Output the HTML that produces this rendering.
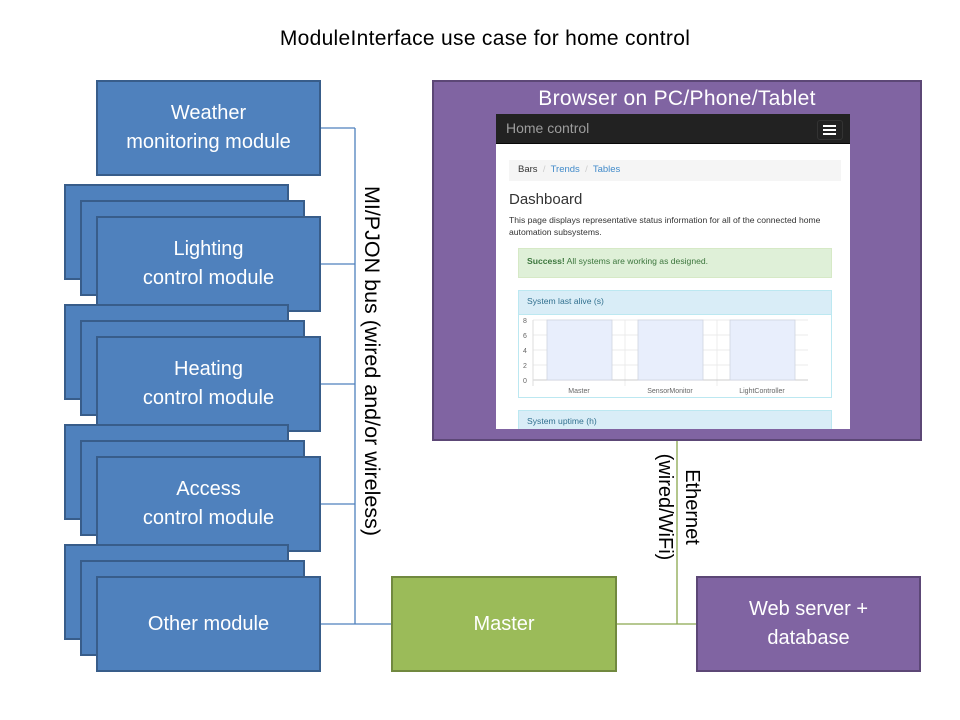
<!DOCTYPE html>
<html><head><meta charset="utf-8"><style>
*{margin:0;padding:0;box-sizing:border-box}
body{width:960px;height:720px;background:#fff;position:relative;overflow:hidden;font-family:"Liberation Sans",sans-serif}
.b{position:absolute;background:#4f81bd;border:2px solid #385d8a;color:#fff;font-size:20px;line-height:29px;text-align:center;display:flex;align-items:center;justify-content:center}
.a{position:absolute}
.rot{position:absolute;transform:rotate(90deg);transform-origin:center;white-space:nowrap;font-size:20px;color:#000;text-align:center}
.s{font-family:"Liberation Sans",sans-serif;}
</style></head><body>
<div class="a" style="left:0;top:27px;width:970px;text-align:center;font-size:21px;letter-spacing:0.3px">ModuleInterface use case for home control</div>

<svg class="a" style="left:0;top:0" width="960" height="720">
<g stroke="#4f81bd" stroke-width="1.3" fill="none">
<line x1="355" y1="128" x2="355" y2="624"/>
<line x1="321" y1="128" x2="355" y2="128"/>
<line x1="321" y1="264" x2="355" y2="264"/>
<line x1="321" y1="384" x2="355" y2="384"/>
<line x1="321" y1="504" x2="355" y2="504"/>
<line x1="321" y1="624" x2="391" y2="624"/>
</g>
<g stroke="#8aa84f" stroke-width="1.3">
<line x1="677" y1="440" x2="677" y2="624"/>
<line x1="617" y1="624" x2="696" y2="624"/>
</g>
</svg>

<div class="b" style="left:96px;top:80px;width:225px;height:96px">Weather<br>monitoring module</div>

<div class="b" style="left:64px;top:184px;width:225px;height:96px"></div>
<div class="b" style="left:80px;top:200px;width:225px;height:96px"></div>
<div class="b" style="left:96px;top:216px;width:225px;height:96px">Lighting<br>control module</div>

<div class="b" style="left:64px;top:304px;width:225px;height:96px"></div>
<div class="b" style="left:80px;top:320px;width:225px;height:96px"></div>
<div class="b" style="left:96px;top:336px;width:225px;height:96px">Heating<br>control module</div>

<div class="b" style="left:64px;top:424px;width:225px;height:96px"></div>
<div class="b" style="left:80px;top:440px;width:225px;height:96px"></div>
<div class="b" style="left:96px;top:456px;width:225px;height:96px">Access<br>control module</div>

<div class="b" style="left:64px;top:544px;width:225px;height:96px"></div>
<div class="b" style="left:80px;top:560px;width:225px;height:96px"></div>
<div class="b" style="left:96px;top:576px;width:225px;height:96px">Other module</div>

<div class="b" style="left:391px;top:576px;width:226px;height:96px;background:#9bbb59;border-color:#71893f">Master</div>
<div class="b" style="left:696px;top:576px;width:225px;height:96px;background:#8064a2;border-color:#5c4776">Web server +<br>database</div>

<div class="a" style="left:432px;top:80px;width:490px;height:361px;background:#8064a2;border:2px solid #5c4776"></div>
<div class="a" style="left:432px;top:87px;width:490px;text-align:center;color:#fff;font-size:21px;letter-spacing:0.3px">Browser on PC/Phone/Tablet</div>

<div class="a s" style="left:496px;top:114px;width:354px;height:315px;background:#fff;overflow:hidden">
 <div class="a" style="left:0;top:0;width:354px;height:30px;background:#222;border-bottom:1px solid #080808"></div>
 <div class="a" style="left:10px;top:6px;color:#9d9d9d;font-size:14px">Home control</div>
 <div class="a" style="left:321px;top:6px;width:26px;height:20px;border:1px solid #333;border-radius:3px"></div>
 <div class="a" style="left:327px;top:11px;width:13px;height:2px;background:#fff;box-shadow:0 4px 0 #fff,0 8px 0 #fff"></div>
 <div class="a" style="left:13px;top:46px;width:332px;height:21px;background:#f5f5f5"></div>
 <div class="a" style="left:22px;top:50px;font-size:9.5px;color:#333">Bars <span style="color:#ccc">&nbsp;/&nbsp;</span> <span style="color:#428bca">Trends</span> <span style="color:#ccc">&nbsp;/&nbsp;</span> <span style="color:#428bca">Tables</span></div>
 <div class="a" style="left:13px;top:77px;font-size:15px;color:#333">Dashboard</div>
 <div class="a" style="left:13px;top:100px;width:335px;font-size:8.6px;line-height:12px;color:#333">This page displays representative status information for all of the connected home automation subsystems.</div>
 <div class="a" style="left:22px;top:134px;width:314px;height:30px;background:#dff0d8;border:1px solid #d6e9c6"></div>
 <div class="a" style="left:31px;top:142px;font-size:8.6px;color:#3c763d"><b>Success!</b> All systems are working as designed.</div>
 <div class="a" style="left:22px;top:176px;width:314px;height:108px;border:1px solid #bce8f1"></div>
 <div class="a" style="left:22px;top:176px;width:314px;height:25px;background:#d9edf7;border:1px solid #bce8f1"></div>
 <div class="a" style="left:31px;top:182px;font-size:8.6px;color:#31708f">System last alive (s)</div>
 <svg class="a" style="left:22px;top:200px" width="314" height="84">
  <g stroke="#e5e5e5" stroke-width="0.7"><line x1="15" y1="6" x2="290" y2="6"/><line x1="15" y1="21" x2="290" y2="21"/><line x1="15" y1="36" x2="290" y2="36"/><line x1="15" y1="51" x2="290" y2="51"/><line x1="107" y1="6" x2="107" y2="72"/><line x1="199" y1="6" x2="199" y2="72"/></g>
  <line x1="15" y1="66" x2="290" y2="66" stroke="#ccc"/><line x1="15" y1="6" x2="15" y2="72" stroke="#ddd"/>
  <g fill="#e8eefc" stroke="#d0d4e0" stroke-width="0.8"><rect x="29" y="6" width="65" height="60"/><rect x="120" y="6" width="65" height="60"/><rect x="212" y="6" width="65" height="60"/></g>
  <g font-size="7" fill="#666" font-family="Liberation Sans"><text x="5" y="9">8</text><text x="5" y="24">6</text><text x="5" y="39">4</text><text x="5" y="54">2</text><text x="5" y="69">0</text>
  <text x="61" y="79" text-anchor="middle">Master</text><text x="152" y="79" text-anchor="middle">SensorMonitor</text><text x="244" y="79" text-anchor="middle">LightController</text></g>
 </svg>
 <div class="a" style="left:22px;top:296px;width:314px;height:30px;background:#d9edf7;border:1px solid #bce8f1"></div>
 <div class="a" style="left:31px;top:302px;font-size:8.6px;color:#31708f">System uptime (h)</div>
</div>

<div class="rot" style="left:180px;top:347px;width:380px;height:28px;font-size:21.5px">MI/PJON bus (wired and/or wireless)</div>
<div class="rot" style="left:593px;top:494px;width:140px;height:26px">(wired/WiFi)</div>
<div class="rot" style="left:620px;top:494px;width:140px;height:26px">Ethernet</div>
</body></html>
